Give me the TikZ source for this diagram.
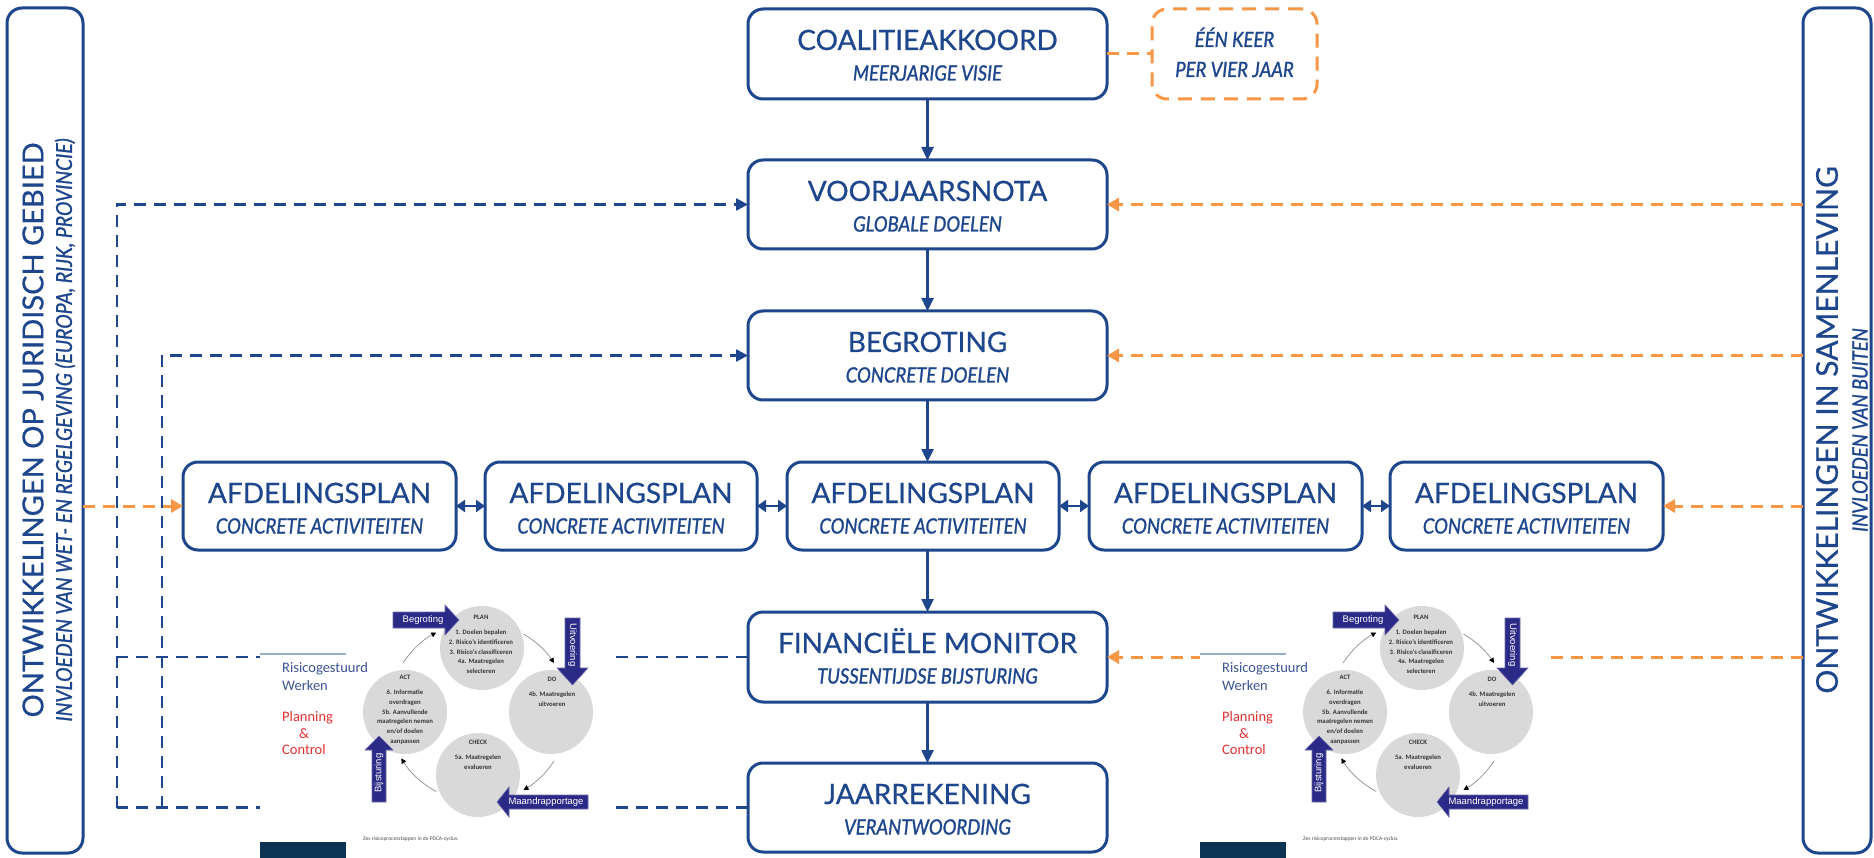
\documentclass[tikz,border=0pt]{standalone}
\usepackage{fontspec}
\setmainfont{Lato}
\newfontfamily\ttlfam{Lato}[FakeBold=0.6]
\newfontfamily\subfam{Lato}[FakeStretch=0.88,FakeBold=1.2]
\newfontfamily\calib{Carlito}
\newfontfamily\arialf{Liberation Sans}
\usetikzlibrary{arrows.meta,calc}
\definecolor{blueC}{RGB}{30,70,140}
\definecolor{orangeC}{RGB}{247,150,70}
\definecolor{indigoC}{RGB}{44,42,135}
\definecolor{circC}{RGB}{217,217,217}
\definecolor{ctextC}{RGB}{55,55,55}
\definecolor{rwC}{RGB}{60,85,150}
\definecolor{redC}{RGB}{225,50,50}
\definecolor{navyC}{RGB}{12,52,82}
\definecolor{lineC}{RGB}{150,175,205}
\tikzset{
  box/.style={draw=blueC, line width=3pt, rounded corners=15pt, fill=white, inner sep=0pt, outer sep=0pt},
  sz/.style 2 args={minimum width=#1, minimum height=#2},
  obox/.style={draw=orangeC, line width=3pt, rounded corners=15pt, dash pattern=on 14pt off 9pt, fill=white, inner sep=0pt, outer sep=0pt},
  ttl/.style={font=\ttlfam\fontsize{28}{30}\selectfont, text=blueC, inner sep=0pt, anchor=base},
  sub/.style={font=\subfam\itshape\fontsize{21}{24}\selectfont, text=blueC, inner sep=0pt, anchor=base},
  sidettl/.style={font=\ttlfam\fontsize{29}{30}\selectfont, text=blueC, inner sep=0pt},
  sidesub/.style={font=\subfam\itshape\fontsize{22}{24}\selectfont, text=blueC, inner sep=0pt},
  barr/.style={draw=blueC, line width=2.5pt, -{Triangle[length=13pt,width=12pt]}},
  bdbl/.style={draw=blueC, line width=2.5pt, {Triangle[length=9pt,width=12pt]}-{Triangle[length=9pt,width=12pt]}},
  bdash/.style={draw=blueC, line width=2.5pt, dash pattern=on 12pt off 8pt},
  btip/.style={-{Triangle[length=12pt,width=12pt]}},
  odash/.style={draw=orangeC, line width=3pt, dash pattern=on 12pt off 8pt},
  otip/.style={-{Triangle[length=12pt,width=13pt]}},
  circ/.style={circle, fill=circC, minimum size=84pt, inner sep=0pt},
  ctext/.style={font=\calib\bfseries\fontsize{6.7}{9.7}\selectfont, text=ctextC, align=center, inner sep=0pt, anchor=north},
  rw/.style={font=\calib\fontsize{14.5}{16}\selectfont, inner sep=0pt},
  blk/.style={fill=indigoC, draw=indigoC!70!white, line width=0.6pt},
  blktext/.style={font=\arialf\fontsize{9.5}{10}\selectfont, text=white, inner sep=0pt},
  cyc/.style={draw=gray!80, line width=0.8pt, -{Triangle[length=5pt,width=5pt,black]}}
}
\newcommand\pdcafig[1]{%
  \fill[white] (260,592) rectangle (610,858);
  \draw[lineC, line width=1.5pt] (260,654) -- (346,654);
  \node[rw, text=rwC, anchor=west] (#1rw1) at (282,669) {Risicogestuurd};
  \node[rw, text=rwC, anchor=west] (#1rw2) at (282,686) {Werken};
  \node[rw, text=redC, anchor=west] (#1pc1) at (282,718) {Planning};
  \node[rw, text=redC] (#1pc2) at (304,734) {\&};
  \node[rw, text=redC, anchor=west] (#1pc3) at (282,750) {Control};
  \fill[navyC] (260,842) rectangle (346,858);
  \node[font=\calib\fontsize{5.5}{6}\selectfont, text=black!70, anchor=west, inner sep=0pt] (#1cap) at (363,839) {Zes risicoprocesstappen in de PDCA-cyclus.};
  \node[circ] (#1plan) at (482,648) {};
  \node[circ] (#1do) at (551,712) {};
  \node[circ] (#1check) at (478,775) {};
  \node[circ] (#1act) at (405,712) {};
  \node[ctext] (#1plant) at (481,614.5) {PLAN\\[6pt]1. Doelen bepalen\\2. Risico’s identificeren\\3. Risico’s classificeren\\4a. Maatregelen\\selecteren};
  \node[ctext] (#1actt) at (405,674.5) {ACT\\[6pt]6. Informatie\\overdragen\\5b. Aanvullende\\maatregelen nemen\\en/of doelen\\aanpassen};
  \node[ctext] (#1dot) at (552,676.5) {DO\\[6pt]4b. Maatregelen\\uitvoeren};
  \node[ctext] (#1checkt) at (478,739.5) {CHECK\\[6pt]5a. Maatregelen\\evalueren};
  \draw[cyc] (478.5,712) ++(-60:90) arc[start angle=-60, end angle=-33, radius=90];
  \draw[cyc] (478.5,712) ++(33:90) arc[start angle=33, end angle=60, radius=90];
  \draw[cyc] (478.5,712) ++(118:90) arc[start angle=118, end angle=149, radius=90];
  \draw[cyc] (478.5,712) ++(213:90) arc[start angle=213, end angle=242, radius=90];
  \filldraw[blk] (393,612) -- (445,612) -- (445,605) -- (459,620) -- (445,635) -- (445,628) -- (393,628) -- cycle;
  \node[blktext] (#1b1) at (423,620) {Begroting};
  \filldraw[blk] (565,618) -- (580,618) -- (580,668) -- (588,668) -- (572.5,685) -- (557,668) -- (565,668) -- cycle;
  \node[blktext, rotate=-90] (#1b2) at (572.5,645) {Uitvoering};
  \filldraw[blk] (588,795) -- (509,795) -- (509,787) -- (497,802) -- (509,817) -- (509,809) -- (588,809) -- cycle;
  \node[blktext] (#1b3) at (546,802) {Maandrapportage};
  \filldraw[blk] (372,802) -- (372,750) -- (365,750) -- (379,736) -- (393,750) -- (386,750) -- (386,802) -- cycle;
  \node[blktext, rotate=90] (#1b4) at (379,773) {Bijsturing};
}
\begin{document}
\begin{tikzpicture}[x=1pt,y=-1pt]
\useasboundingbox (0,0) rectangle (1874,858);
\fill[white] (0,0) rectangle (1874,858);

% side boxes
\node[box, sz={76}{845}] (L) at (45,430.5) {};
\node[sidettl, rotate=90] (Lt) at (33,430) {ONTWIKKELINGEN OP JURIDISCH GEBIED};
\node[sidesub, rotate=90] (Ls) at (65,430) {INVLOEDEN VAN WET- EN REGELGEVING (EUROPA, RIJK, PROVINCIE)};
\node[box, sz={68}{845}] (R) at (1837,430.5) {};
\node[sidettl, rotate=90, font=\ttlfam\fontsize{30}{30}\selectfont] (Rt) at (1827,430) {ONTWIKKELINGEN IN SAMENLEVING};
\node[sidesub, rotate=90, font=\subfam\itshape\fontsize{21}{24}\selectfont] (Rs) at (1860,430) {INVLOEDEN VAN BUITEN};

% central column
\node[box, sz={359}{90}] (c1) at (927.5,54) {};
\node[ttl] (c1t) at ([yshift=-41pt]c1.north) {COALITIEAKKOORD};
\node[sub] (c1s) at ([yshift=-71.5pt]c1.north) {MEERJARIGE VISIE};

\node[obox, sz={165}{90}] (eek) at (1234.5,54) {};
\node[sub] (eek1) at ([yshift=-38pt]eek.north) {ÉÉN KEER};
\node[sub] (eek2) at ([yshift=-68pt]eek.north) {PER VIER JAAR};

\node[box, sz={359}{89}] (c2) at (927.5,204.5) {};
\node[ttl] (c2t) at ([yshift=-41pt]c2.north) {VOORJAARSNOTA};
\node[sub] (c2s) at ([yshift=-71.5pt]c2.north) {GLOBALE DOELEN};

\node[box, sz={359}{89}] (c3) at (927.5,355.5) {};
\node[ttl] (c3t) at ([yshift=-41pt]c3.north) {BEGROTING};
\node[sub] (c3s) at ([yshift=-71.5pt]c3.north) {CONCRETE DOELEN};

\foreach \i/\xa/\xb in {1/183/456, 2/485/757, 3/787/1059, 4/1089/1362, 5/1390/1663}{
  \node[box, minimum width={\xb-\xa}, minimum height=88] (afd\i) at ({(\xa+\xb)/2},506) {};
  \node[ttl] (afd\i t) at ([yshift=-41pt]afd\i.north) {AFDELINGSPLAN};
  \node[sub] (afd\i s) at ([yshift=-71.5pt]afd\i.north) {CONCRETE ACTIVITEITEN};
}

\node[box, sz={359}{90}] (fin) at (927.5,657) {};
\node[ttl] (fint) at ([yshift=-41pt]fin.north) {FINANCIËLE MONITOR};
\node[sub] (fins) at ([yshift=-71.5pt]fin.north) {TUSSENTIJDSE BIJSTURING};

\node[box, sz={359}{89}] (jaar) at (927.5,807.5) {};
\node[ttl] (jaart) at ([yshift=-41pt]jaar.north) {JAARREKENING};
\node[sub] (jaars) at ([yshift=-71.5pt]jaar.north) {VERANTWOORDING};

% solid flow
\draw[barr] (c1.south) -- (c2.north);
\draw[barr] (c2.south) -- (c3.north);
\draw[barr] (c3.south) -- (c3.south |- afd3.north);
\draw[barr] (fin.north |- afd3.south) -- (fin.north);
\draw[barr] (fin.south) -- (jaar.north);
\draw[bdbl] (afd1.east) -- (afd2.west);
\draw[bdbl] (afd2.east) -- (afd3.west);
\draw[bdbl] (afd3.east) -- (afd4.west);
\draw[bdbl] (afd4.east) -- (afd5.west);

% orange influences
\draw[odash] (c1.east) -- (eek.west);
\draw[odash, otip] (R.west |- c2.east) -- (c2.east);
\draw[odash, otip] (R.west |- c3.east) -- (c3.east);
\draw[odash, otip] (R.west |- afd5.east) -- (afd5.east);
\draw[odash, otip] (R.west |- fin.east) -- (fin.east);
\draw[odash, otip] (L.east |- afd1.west) -- (afd1.west);

% blue feedback
\coordinate (L1) at (117,807.5);
\coordinate (L2) at (162,807.5);
\draw[bdash] (jaar.west) -- (L1);
\draw[bdash, btip] (L1) |- (c2.west);
\draw[bdash, btip] (L2) |- (c3.west);
\draw[bdash] (fin.west) -- (fin.west -| L1);

% PDCA figures
\begin{scope}
\pdcafig{pl}
\end{scope}
\begin{scope}[xshift=940pt]
\pdcafig{pr}
\end{scope}
\end{tikzpicture}
\end{document}
